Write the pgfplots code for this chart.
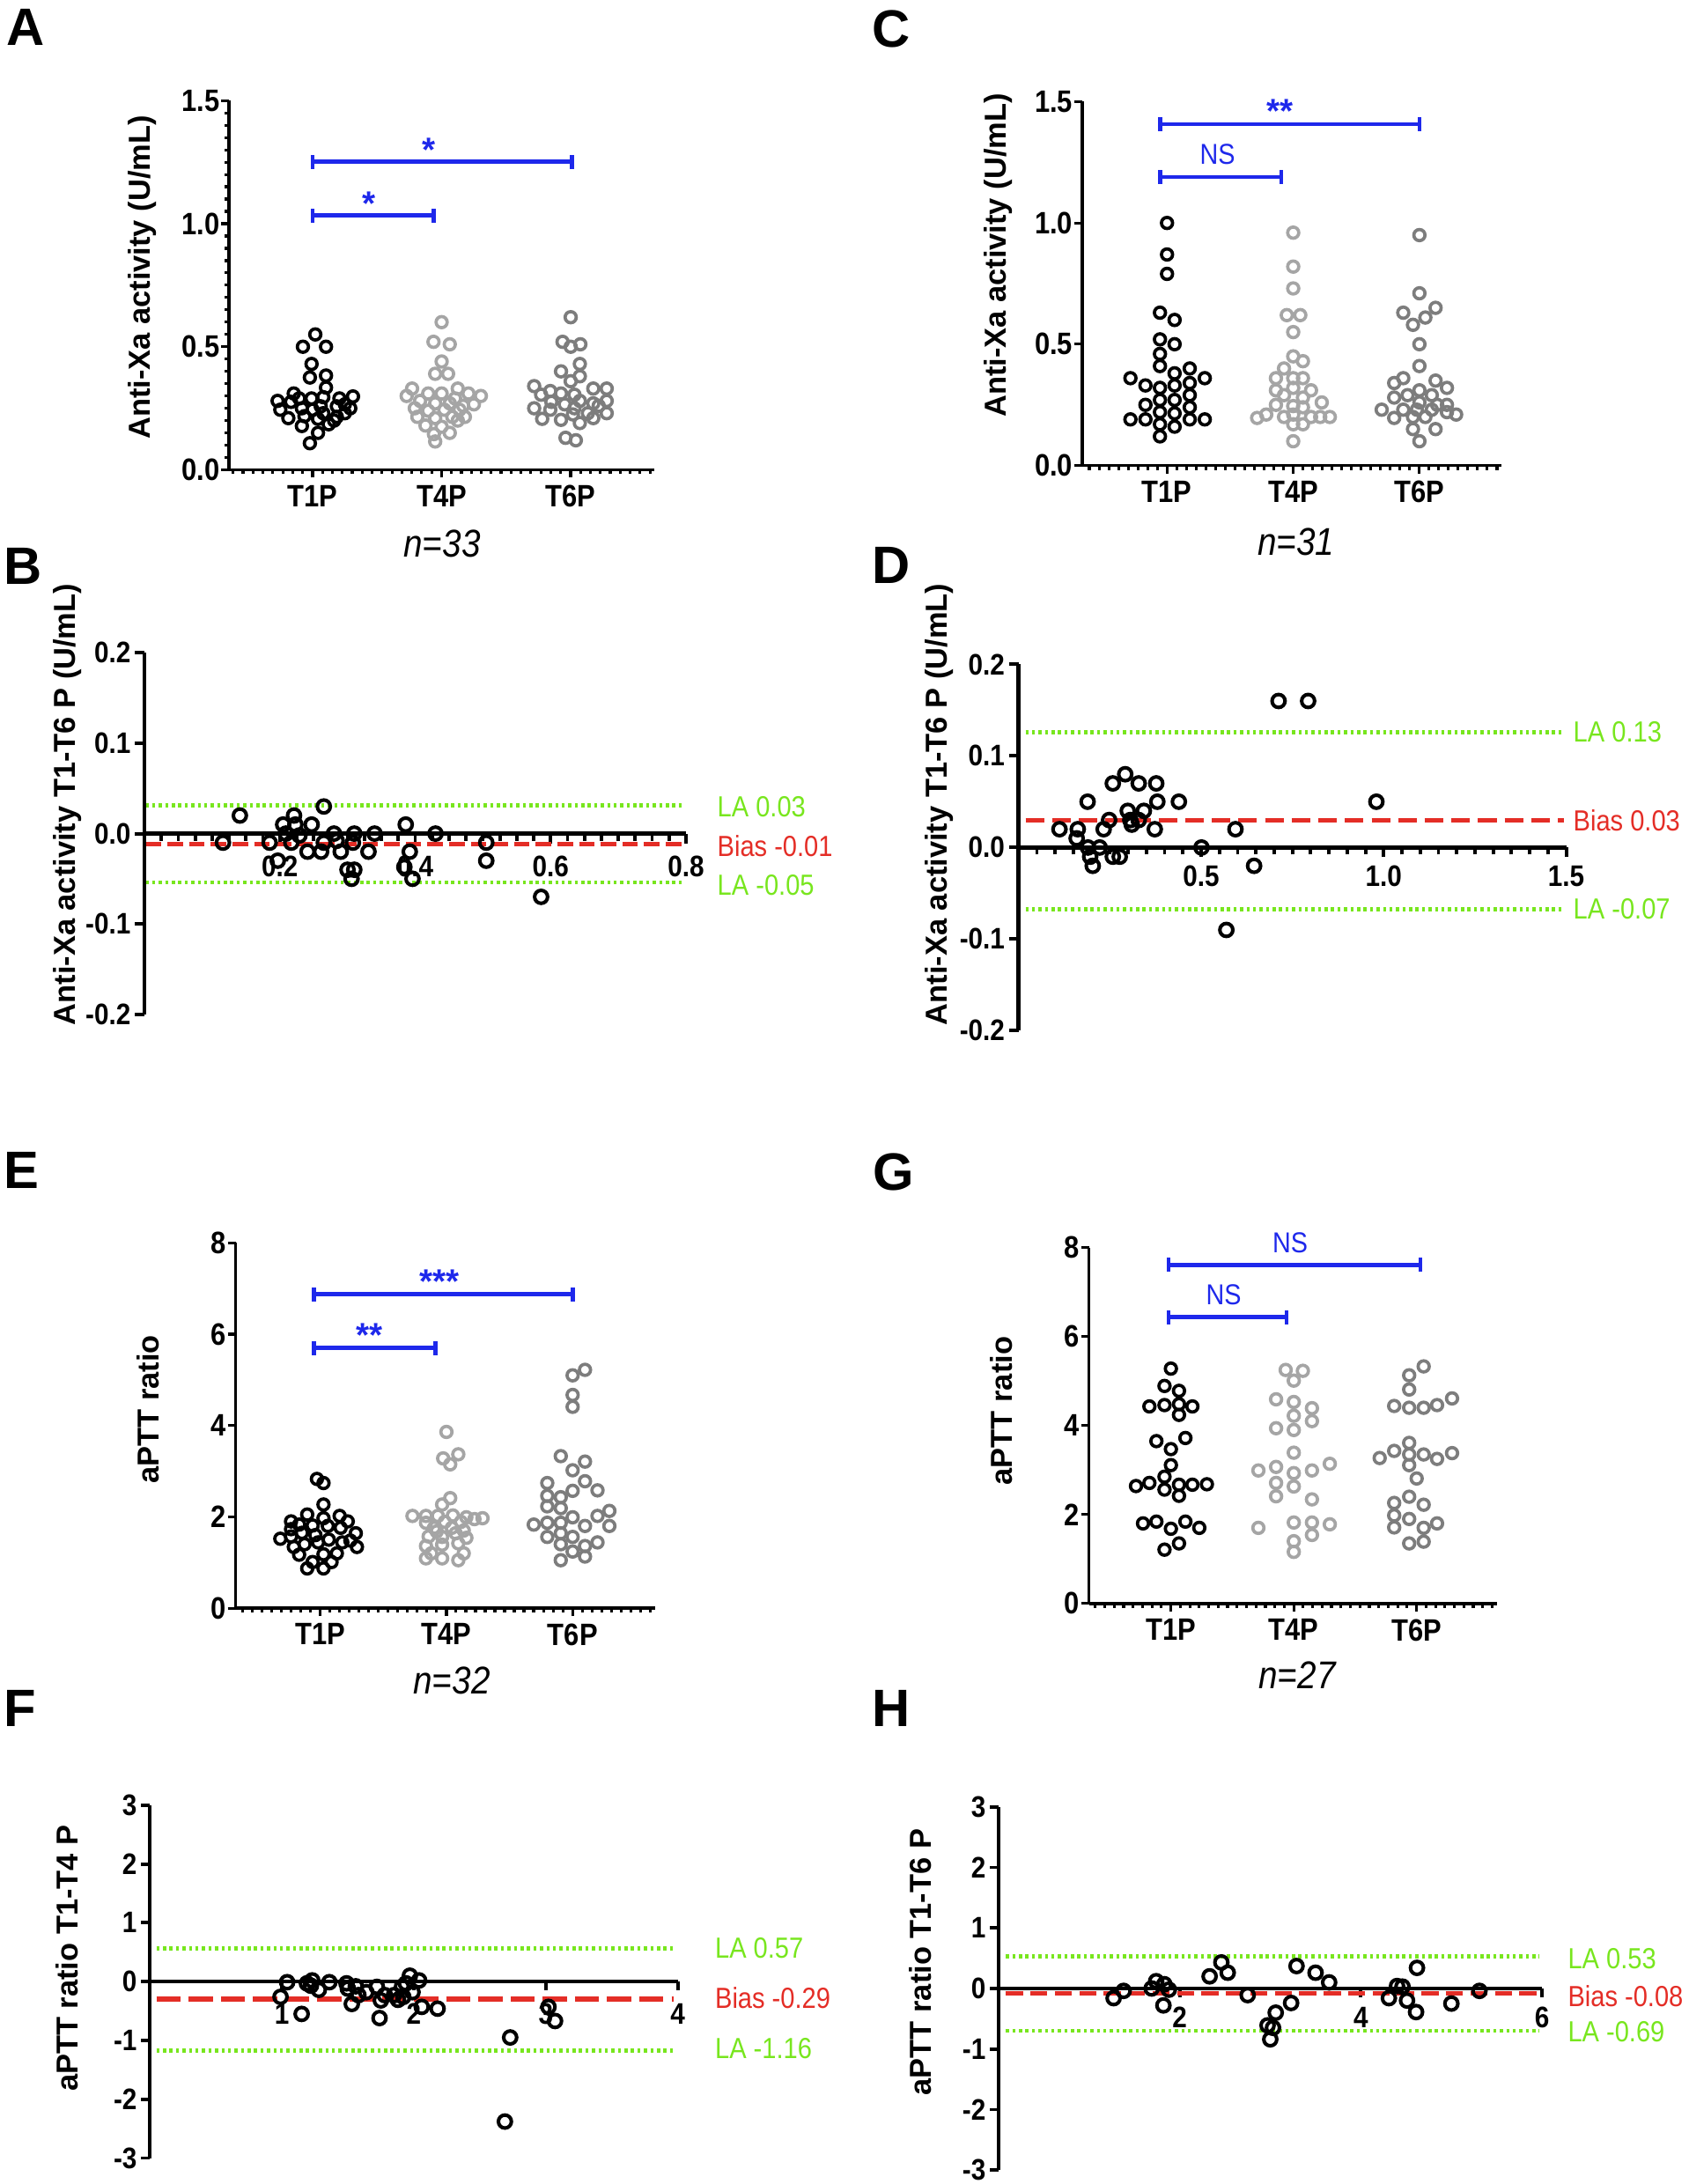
\documentclass[border=0pt]{standalone}
\usepackage{pgfplots}
\pgfplotsset{compat=1.18}
\usepackage{fontspec}
\setmainfont{Liberation Sans}
\newfontfamily\condfont[FakeStretch=0.88]{Liberation Sans}

\definecolor{sigblue}{RGB}{30,40,235}
\definecolor{lagreen}{RGB}{120,230,30}
\definecolor{biasred}{RGB}{228,45,38}
\definecolor{g4}{RGB}{165,165,165}
\definecolor{g6}{RGB}{125,125,125}

\newcommand\tickfont{\condfont\bfseries\fontsize{10}{11}\selectfont}
\newcommand\batickfont{\condfont\bfseries\fontsize{9.6}{11}\selectfont}
\newcommand\ylabfont{\bfseries\fontsize{9.8}{11}\selectfont}
\newcommand\letterfont{\bfseries\fontsize{17}{19}\selectfont}
\newcommand\nfont{\condfont\itshape\fontsize{12.5}{14}\selectfont}
\newcommand\lafont{\condfont\fontsize{9.4}{11}\selectfont}
\newcommand\starfont{\bfseries\fontsize{11}{12}\selectfont}
\newcommand\nsfont{\condfont\fontsize{9.3}{11}\selectfont}

\tikzset{sig/.style={draw=sigblue, line width=1.3pt}}

% x1, x2, y, label x, label, label yshift
\newcommand\sigbar[6]{%
  \draw[sig] (axis cs:#1,#3) -- (axis cs:#2,#3);
  \draw[sig] ([yshift=-0.08cm]axis cs:#1,#3) -- ([yshift=0.08cm]axis cs:#1,#3);
  \draw[sig] ([yshift=-0.08cm]axis cs:#2,#3) -- ([yshift=0.08cm]axis cs:#2,#3);
  \node[text=sigblue, anchor=base, inner sep=0pt] at ([yshift=#6]axis cs:#4,#3) {#5};
}

\pgfplotsset{
  swarm/.style={
    scale only axis, clip=false,
    axis x line*=bottom, axis y line*=left,
    axis line style={line width=1pt},
    tick style={black, line width=0.9pt},
    tick align=outside,
    major tick length=0.09cm, minor tick length=0.05cm,
    xtick={0,1,2}, xticklabels={T1P,T4P,T6P},
    minor xtick={-0.6154,-0.5385,...,2.64},
    ymin=0,
    xticklabel style={font=\tickfont, inner sep=0pt, yshift=-0.08cm},
    yticklabel style={font=\tickfont, inner sep=0pt, xshift=-0.01cm},
  },
  bland/.style={
    scale only axis, clip=false,
    axis x line*=middle, axis y line*=left,
    axis line style={line width=1.3pt},
    tick style={black, line width=1.1pt},
    tick align=outside,
    major tick length=0.11cm, minor tick length=0.08cm,
    xticklabel style={font=\batickfont, inner sep=0pt},
    yticklabel style={font=\batickfont, inner sep=0pt, xshift=-0.04cm},
  },
  pt/.style={only marks, mark=o, mark size=1.8pt, mark options={line width=1.05pt}},
  bapt/.style={only marks, mark=o, mark size=2.1pt, mark options={line width=1.15pt}, black},
  la/.style={lagreen, line width=1.4pt, dash pattern=on 1pt off 1.1pt},
}

\begin{document}
\begin{tikzpicture}
\useasboundingbox (0,0) rectangle (19.18,24.8);

% ---------- A ----------
\begin{axis}[swarm, at={(2.60cm,19.465cm)}, anchor=south west,
  width=4.83cm, height=4.192cm, xmin=-0.648, xmax=2.648, ymax=1.5,
  ytick={0,0.5,1,1.5}, yticklabels={0.0,0.5,1.0,1.5},
  minor ytick={0,0.05,...,1.5}]
\addplot[pt, black] coordinates {
(0.021,0.55)(-0.075,0.50)(0.104,0.50)(-0.008,0.43)(-0.021,0.375)(0.104,0.383)(0.104,0.334)
(-0.146,0.31)(-0.271,0.28)(-0.167,0.276)(-0.008,0.29)(0.083,0.295)(0.208,0.29)(0.313,0.298)
(-0.083,0.25)(0.063,0.258)(0.188,0.258)(0.292,0.25)(-0.188,0.21)(-0.063,0.218)(0.083,0.23)
(0.188,0.215)(0.125,0.185)(-0.083,0.178)(0.042,0.15)(-0.021,0.108)(0.167,0.20)(0.25,0.23)
(0,0.244)(-0.25,0.244)(0.042,0.207)(-0.104,0.29)(0.25,0.266)};
\addplot[pt, g4] coordinates {
(1,0.60)(0.937,0.52)(1.063,0.51)(1,0.44)(0.95,0.39)(1.05,0.39)(0.771,0.33)(1.125,0.33)
(0.729,0.30)(0.896,0.31)(1,0.31)(1.104,0.29)(1.208,0.31)(1.304,0.30)(0.833,0.28)(0.95,0.27)
(1.063,0.27)(1.25,0.266)(0.896,0.24)(1.021,0.244)(1.138,0.244)(0.812,0.215)(0.95,0.21)
(1.083,0.215)(1.18,0.215)(0.875,0.18)(1,0.175)(1.063,0.15)(0.94,0.145)(0.95,0.115)
(1.125,0.20)(0.792,0.25)(1.167,0.26)};
\addplot[pt, g6] coordinates {
(2,0.62)(1.937,0.52)(2.075,0.51)(1.925,0.40)(2.071,0.43)(2.071,0.38)(1.717,0.34)(1.842,0.32)
(1.925,0.31)(2.029,0.305)(2.175,0.33)(2.279,0.33)(1.771,0.305)(1.85,0.276)(1.954,0.266)
(2.071,0.28)(2.175,0.27)(2.279,0.28)(1.717,0.25)(1.842,0.244)(2.029,0.25)(2.217,0.26)
(2.279,0.23)(1.779,0.207)(1.925,0.203)(2.071,0.19)(2.175,0.21)(2.017,0.225)(1.96,0.13)
(2.04,0.12)(2.133,0.23)(2,0.50)(2,0.36)};
\sigbar{0}{0.94}{1.033}{0.44}{\starfont *}{0cm}
\sigbar{0}{2.01}{1.252}{0.90}{\starfont *}{0cm}
\end{axis}

% ---------- C ----------
\begin{axis}[swarm, at={(12.288cm,19.514cm)}, anchor=south west,
  width=4.762cm, height=4.131cm, xmin=-0.673, xmax=2.65, ymax=1.5,
  ytick={0,0.5,1,1.5}, yticklabels={0.0,0.5,1.0,1.5}]
\addplot[pt, black] coordinates {
(0,1.00)(0,0.87)(0,0.79)(-0.056,0.63)(0.06,0.60)(-0.056,0.52)(0.06,0.50)(-0.056,0.46)
(-0.056,0.41)(0.06,0.38)(0.18,0.40)(-0.29,0.36)(-0.171,0.33)(-0.056,0.32)(0.06,0.33)
(0.18,0.34)(0.299,0.36)(-0.056,0.27)(0.06,0.27)(0.18,0.29)(-0.171,0.25)(-0.056,0.22)
(0.06,0.215)(0.18,0.24)(-0.29,0.19)(-0.171,0.19)(-0.056,0.17)(0.18,0.19)(0.299,0.19)
(0.06,0.16)(-0.056,0.12)};
\addplot[pt, g4] coordinates {
(1,0.96)(1,0.82)(1,0.73)(0.949,0.62)(1.056,0.62)(1,0.55)(1,0.45)(1.077,0.43)(0.927,0.40)
(0.863,0.36)(1,0.36)(1.077,0.36)(0.863,0.31)(1,0.32)(1.141,0.31)(0.927,0.29)(1.077,0.28)
(0.863,0.25)(1.226,0.26)(1,0.245)(1.077,0.24)(0.714,0.196)(0.786,0.21)(0.927,0.20)(1,0.21)
(1.141,0.20)(1.214,0.20)(1.29,0.20)(1,0.17)(1.077,0.17)(1,0.10)};
\addplot[pt, g6] coordinates {
(2,0.95)(2,0.71)(1.872,0.63)(2.128,0.65)(2.047,0.61)(1.949,0.58)(2,0.50)(2,0.41)(1.8,0.34)
(1.872,0.36)(2.128,0.35)(2.218,0.32)(1.8,0.28)(1.906,0.29)(2,0.31)(2.098,0.29)(2,0.26)
(2.141,0.25)(2.218,0.25)(1.701,0.23)(1.872,0.23)(1.98,0.23)(2.098,0.23)(2.218,0.22)
(1.8,0.196)(1.949,0.20)(2.047,0.20)(2.291,0.21)(1.949,0.15)(2.128,0.15)(2,0.10)};
\sigbar{-0.055}{0.904}{1.190}{0.40}{\nsfont NS}{0.14cm}
\sigbar{-0.055}{2.0}{1.408}{0.895}{\starfont **}{0.01cm}
\end{axis}

% ---------- B ----------
\begin{axis}[bland, at={(1.64cm,13.282cm)}, anchor=south west,
  width=6.15cm, height=4.104cm, xmin=0, xmax=0.8, ymin=-0.2, ymax=0.2,
  xtick={0.2,0.4,0.6,0.8}, xticklabels={0.2,0.4,0.6,0.8},
  minor xtick={0,0.025,...,0.8},
  xticklabel style={yshift=-0.14cm},
  ytick={-0.2,-0.1,0,0.1,0.2}, yticklabels={-0.2,-0.1,0.0,0.1,0.2}]
\addplot[la] coordinates {(0.002,0.031)(0.795,0.031)};
\addplot[la] coordinates {(0.002,-0.054)(0.795,-0.054)};
\addplot[biasred, line width=1.5pt, dash pattern=on 5pt off 2pt] coordinates {(0.002,-0.0115)(0.795,-0.0115)};
\addplot[bapt] coordinates {
(0.116,-0.01)(0.141,0.02)(0.185,-0.01)(0.197,-0.03)(0.205,0.01)(0.209,0.0)(0.221,0.02)
(0.223,0.01)(0.217,-0.01)(0.229,-0.002)(0.241,-0.02)(0.247,0.01)(0.261,-0.02)(0.265,0.03)
(0.265,-0.01)(0.28,0.0)(0.284,-0.008)(0.29,-0.02)(0.30,-0.04)(0.306,-0.05)(0.31,0.0)
(0.31,-0.04)(0.308,-0.01)(0.331,-0.02)(0.34,0.0)(0.386,0.01)(0.384,-0.037)(0.392,-0.02)
(0.396,-0.05)(0.43,0.0)(0.505,-0.01)(0.505,-0.03)(0.586,-0.07)};
\end{axis}

% ---------- D ----------
\begin{axis}[bland, at={(11.567cm,13.096cm)}, anchor=south west,
  width=6.219cm, height=4.16cm, xmin=0, xmax=1.5, ymin=-0.2, ymax=0.2,
  xtick={0.5,1,1.5}, xticklabels={0.5,1.0,1.5},
  minor xtick={0,0.05,...,1.5},
  xticklabel style={yshift=-0.09cm},
  ytick={-0.2,-0.1,0,0.1,0.2}, yticklabels={-0.2,-0.1,0.0,0.1,0.2}]
\addplot[la] coordinates {(0.019,0.126)(1.4925,0.126)};
\addplot[la] coordinates {(0.019,-0.067)(1.4925,-0.067)};
\addplot[biasred, line width=1.5pt, dash pattern=on 6pt off 2.6pt] coordinates {(0.019,0.0297)(1.4925,0.0297)};
\addplot[bapt] coordinates {
(0.112,0.02)(0.162,0.02)(0.159,0.01)(0.189,0.05)(0.19,0.0)(0.196,-0.01)(0.203,-0.02)
(0.222,0.0)(0.233,0.02)(0.248,0.03)(0.258,0.07)(0.258,-0.01)(0.277,-0.01)(0.292,0.08)
(0.299,0.04)(0.306,0.03)(0.329,0.07)(0.329,0.03)(0.343,0.04)(0.373,0.02)(0.377,0.07)
(0.38,0.05)(0.439,0.05)(0.501,0.0)(0.569,-0.09)(0.594,0.02)(0.645,-0.02)(0.712,0.16)
(0.793,0.16)(0.98,0.05)(0.31,0.025)};
\end{axis}

% ---------- E ----------
\begin{axis}[swarm, at={(2.676cm,6.539cm)}, anchor=south west,
  width=4.764cm, height=4.147cm, xmin=-0.67, xmax=2.654, ymax=8,
  ytick={0,2,4,6,8}, yticklabels={0,2,4,6,8}]
\addplot[pt, black] coordinates {
(-0.026,2.83)(0.026,2.74)(0.026,2.27)(-0.103,2.05)(0.026,1.97)(0.154,2.02)(-0.231,1.90)
(0.218,1.90)(-0.167,1.83)(-0.316,1.52)(-0.231,1.57)(-0.145,1.65)(-0.06,1.81)(0.06,1.80)
(0.162,1.76)(0.282,1.64)(-0.124,1.40)(-0.017,1.44)(0.068,1.50)(0.175,1.44)(-0.209,1.34)
(0.291,1.34)(-0.167,1.17)(0.026,1.18)(0.132,1.20)(-0.06,1.01)(0.09,1.01)(-0.103,0.87)
(0.026,0.87)(-0.038,1.60)(-0.231,1.73)(0.239,1.48)};
\addplot[pt, g4] coordinates {
(1,3.86)(1.094,3.37)(0.974,3.28)(1.03,3.15)(1.03,2.41)(0.966,2.27)(0.731,2.02)(0.838,2.02)
(0.932,2.02)(1.051,2.03)(1.158,1.99)(1.286,1.97)(0.838,1.87)(0.987,1.89)(1.115,1.89)
(0.902,1.76)(1.043,1.76)(1.137,1.70)(0.859,1.57)(0.966,1.56)(1.158,1.54)(0.838,1.36)
(0.966,1.39)(1.094,1.42)(0.88,1.20)(1.137,1.20)(0.838,1.09)(0.966,1.09)(1.094,1.05)
(1.073,1.64)(0.923,1.68)(1.222,1.95)};
\addplot[pt, g6] coordinates {
(2,5.10)(2.098,5.22)(2,4.67)(2,4.41)(1.906,3.33)(2.098,3.21)(2,3.02)(2.098,2.78)(1.799,2.74)
(2.197,2.58)(2,2.57)(1.799,2.46)(1.906,2.43)(1.799,2.23)(1.906,2.19)(1.692,1.83)(1.799,1.87)
(1.906,1.87)(2,1.99)(2.098,1.80)(2.197,2.02)(2.291,2.13)(2.291,1.80)(1.799,1.56)(1.906,1.64)
(2,1.56)(1.906,1.40)(2.098,1.36)(2.197,1.44)(2,1.24)(1.906,1.05)(2.098,1.13)};
\sigbar{-0.05}{0.915}{5.70}{0.39}{\starfont **}{0.01cm}
\sigbar{-0.05}{2.0}{6.874}{0.944}{\starfont ***}{0.01cm}
\end{axis}

% ---------- G ----------
\begin{axis}[swarm, at={(12.367cm,6.592cm)}, anchor=south west,
  width=4.637cm, height=4.041cm, xmin=-0.666, xmax=2.657, ymax=8,
  ytick={0,2,4,6,8}, yticklabels={0,2,4,6,8}]
\addplot[pt, black] coordinates {
(0,5.28)(-0.052,4.89)(0.066,4.78)(-0.175,4.43)(-0.052,4.46)(0.066,4.48)(0.175,4.43)
(0.066,4.24)(-0.118,3.65)(0.118,3.72)(0,3.47)(0,3.11)(-0.052,2.85)(-0.175,2.71)(-0.284,2.64)
(-0.052,2.56)(0.066,2.67)(0.175,2.67)(0.293,2.68)(0.066,2.42)(-0.227,1.80)(-0.118,1.84)
(0.118,1.84)(0,1.68)(0.231,1.70)(0.066,1.35)(-0.052,1.21)};
\addplot[pt, g4] coordinates {
(0.934,5.25)(1.074,5.23)(1,5.01)(0.856,4.59)(1,4.53)(1.148,4.39)(1,4.22)(1.148,4.10)
(0.856,3.94)(1,3.90)(1,3.39)(1.293,3.14)(0.856,3.07)(0.712,2.99)(1.148,2.99)(1,2.93)
(0.856,2.71)(1,2.63)(0.856,2.41)(1.148,2.34)(0.712,1.70)(1,1.82)(1.148,1.82)(1.293,1.78)
(1.148,1.54)(1,1.40)(1,1.16)};
\addplot[pt, g6] coordinates {
(2.057,5.33)(1.939,5.13)(1.939,4.81)(1.817,4.44)(1.939,4.40)(2.057,4.40)(2.166,4.46)
(2.288,4.61)(1.939,3.61)(1.817,3.43)(1.939,3.35)(2.057,3.35)(2.166,3.25)(2.288,3.38)
(1.699,3.27)(1.939,3.11)(2,2.81)(1.939,2.40)(1.817,2.26)(2.057,2.22)(1.817,1.98)(1.939,1.90)
(1.817,1.71)(2.057,1.70)(2.166,1.80)(1.939,1.35)(2.057,1.39)};
\sigbar{-0.02}{0.94}{6.44}{0.43}{\nsfont NS}{0.14cm}
\sigbar{-0.02}{2.03}{7.61}{0.97}{\nsfont NS}{0.14cm}
\end{axis}

% ---------- F ----------
\begin{axis}[bland, at={(1.702cm,0.295cm)}, anchor=south west,
  width=5.995cm, height=4.007cm, xmin=0, xmax=4, ymin=-3, ymax=3,
  xtick={1,2,3,4}, xticklabels={1,2,3,4},
  major tick length=0.1cm,
  xticklabel style={yshift=-0.145cm},
  ytick={-3,-2,-1,0,1,2,3}, yticklabels={-3,-2,-1,0,1,2,3}]
\addplot[la] coordinates {(0.05,0.56)(3.97,0.56)};
\addplot[la] coordinates {(0.05,-1.17)(3.97,-1.17)};
\addplot[biasred, line width=1.7pt, dash pattern=on 7.8pt off 2.6pt] coordinates {(0.05,-0.30)(3.97,-0.30)};
\addplot[bapt] coordinates {
(0.99,-0.26)(1.04,-0.01)(1.15,-0.55)(1.19,-0.03)(1.23,0.02)(1.22,-0.07)(1.28,-0.14)(1.36,-0.01)
(1.49,-0.03)(1.50,-0.12)(1.53,-0.38)(1.56,-0.08)(1.58,-0.23)(1.64,-0.18)(1.72,-0.09)(1.74,-0.62)
(1.75,-0.32)(1.78,-0.23)(1.85,-0.23)(1.88,-0.31)(1.91,-0.09)(1.92,-0.26)(1.94,-0.03)(1.97,0.10)
(1.99,-0.18)(2.04,0.02)(2.06,-0.43)(2.18,-0.46)(2.73,-0.95)(2.69,-2.38)(3.02,-0.43)(3.07,-0.67)};
\end{axis}

% ---------- H ----------
\begin{axis}[bland, at={(11.34cm,0.158cm)}, anchor=south west,
  width=6.17cm, height=4.125cm, xmin=0, xmax=6, ymin=-3, ymax=3,
  xtick={2,4,6}, xticklabels={2,4,6},
  major tick length=0.1cm,
  xticklabel style={yshift=-0.105cm},
  ytick={-3,-2,-1,0,1,2,3}, yticklabels={-3,-2,-1,0,1,2,3}]
\addplot[la] coordinates {(0.08,0.527)(5.97,0.527)};
\addplot[la] coordinates {(0.08,-0.699)(5.97,-0.699)};
\addplot[biasred, line width=1.5pt, dash pattern=on 5.5pt off 2.4pt] coordinates {(0.08,-0.085)(5.97,-0.085)};
\addplot[bapt] coordinates {
(1.27,-0.16)(1.38,-0.04)(1.69,0.0)(1.74,0.12)(1.83,0.07)(1.82,-0.28)(1.88,-0.02)(2.33,0.20)
(2.46,0.43)(2.53,0.26)(2.75,-0.11)(2.97,-0.61)(3.00,-0.84)(3.03,-0.65)(3.06,-0.40)(3.23,-0.24)
(3.29,0.37)(3.50,0.26)(3.65,0.10)(4.31,-0.16)(4.40,0.04)(4.46,0.03)(4.51,-0.20)(4.61,-0.39)
(4.62,0.34)(5.00,-0.25)(5.31,-0.04)};
\end{axis}

% ---------- panel letters ----------
\node[font=\letterfont] at (0.29,24.49) {A};
\node[font=\letterfont] at (10.12,24.47) {C};
\node[font=\letterfont] at (0.26,18.37) {B};
\node[font=\letterfont] at (10.12,18.38) {D};
\node[font=\letterfont] at (0.24,11.51) {E};
\node[font=\letterfont] at (10.15,11.49) {G};
\node[font=\letterfont] at (0.23,5.40) {F};
\node[font=\letterfont] at (10.12,5.40) {H};

% ---------- y labels ----------
\node[font=\ylabfont, rotate=90] at (1.62,21.65) {Anti-Xa activity (U/mL)};
\node[font=\ylabfont, rotate=90] at (11.34,21.90) {Anti-Xa activity (U/mL)};
\node[font=\ylabfont, rotate=90] at (0.765,15.664) {Anti-Xa activity T1-T6 P (U/mL)};
\node[font=\ylabfont, rotate=90] at (10.67,15.665) {Anti-Xa activity T1-T6 P (U/mL)};
\node[font=\ylabfont, rotate=90] at (1.684,8.796) {aPTT ratio};
\node[font=\ylabfont, rotate=90] at (11.37,8.78) {aPTT ratio};
\node[font=\ylabfont, rotate=90] at (0.765,2.563) {aPTT ratio T1-T4 P};
\node[font=\ylabfont, rotate=90] at (10.455,2.52) {aPTT ratio T1-T6 P};

% ---------- n labels ----------
\node[font=\nfont] at (5.02,18.63) {n=33};
\node[font=\nfont] at (14.717,18.65) {n=31};
\node[font=\nfont] at (5.13,5.72) {n=32};
\node[font=\nfont] at (14.73,5.78) {n=27};

% ---------- agreement labels ----------
\begin{scope}[every node/.style={font=\lafont, anchor=west, inner sep=0pt}]
\node[text=lagreen] at (8.14,15.634) {LA 0.03};
\node[text=biasred] at (8.14,15.192) {Bias -0.01};
\node[text=lagreen] at (8.14,14.745) {LA -0.05};
\node[text=lagreen] at (17.86,16.485) {LA 0.13};
\node[text=biasred] at (17.86,15.484) {Bias 0.03};
\node[text=lagreen] at (17.86,14.48) {LA -0.07};
\node[text=lagreen] at (8.114,2.681) {LA 0.57};
\node[text=biasred] at (8.114,2.112) {Bias -0.29};
\node[text=lagreen] at (8.114,1.534) {LA -1.16};
\node[text=lagreen] at (17.798,2.563) {LA 0.53};
\node[text=biasred] at (17.798,2.13) {Bias -0.08};
\node[text=lagreen] at (17.798,1.73) {LA -0.69};
\end{scope}
\end{tikzpicture}
\end{document}
